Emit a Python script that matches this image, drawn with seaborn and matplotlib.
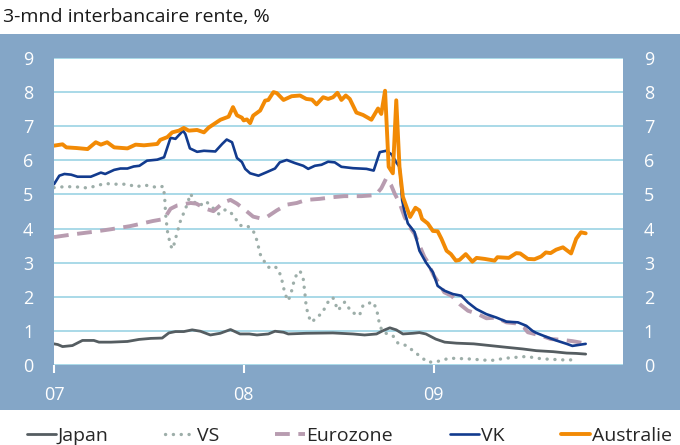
import pandas as pd
import seaborn as sns
import matplotlib.pyplot as plt

# decimal year -> value
jp_t = [2007.00, 2007.02, 2007.045, 2007.097, 2007.15, 2007.21, 2007.237, 2007.30, 2007.387,
        2007.448, 2007.51, 2007.57, 2007.605, 2007.64, 2007.684, 2007.728, 2007.771, 2007.824,
        2007.876, 2007.93, 2007.98, 2008.03, 2008.07, 2008.13, 2008.165, 2008.21, 2008.235,
        2008.33, 2008.47, 2008.576, 2008.637, 2008.70, 2008.735, 2008.77, 2008.804, 2008.839,
        2008.892, 2008.926, 2008.96, 2009.01, 2009.057, 2009.12, 2009.21, 2009.295, 2009.38,
        2009.469, 2009.54, 2009.63, 2009.70, 2009.75, 2009.80]
jp_v = [0.62, 0.60, 0.54, 0.57, 0.72, 0.72, 0.67, 0.67, 0.69,
        0.75, 0.78, 0.79, 0.94, 0.98, 0.98, 1.03, 0.99, 0.88,
        0.93, 1.04, 0.91, 0.91, 0.88, 0.91, 0.99, 0.96, 0.91,
        0.93, 0.94, 0.91, 0.88, 0.91, 1.01, 1.09, 1.03, 0.91,
        0.93, 0.95, 0.91, 0.76, 0.67, 0.64, 0.62, 0.57, 0.52,
        0.47, 0.42, 0.39, 0.35, 0.34, 0.32]

us_t = [2007.00, 2007.06, 2007.12, 2007.177, 2007.23, 2007.265, 2007.33, 2007.39, 2007.43,
        2007.47, 2007.50, 2007.544, 2007.576, 2007.583, 2007.588, 2007.597, 2007.614, 2007.626,
        2007.64, 2007.667, 2007.693, 2007.72, 2007.745, 2007.77, 2007.80, 2007.824, 2007.868,
        2007.894, 2007.92, 2007.946, 2007.98, 2008.017, 2008.05, 2008.07, 2008.087, 2008.10,
        2008.13, 2008.157, 2008.183, 2008.20, 2008.218, 2008.235, 2008.253, 2008.27, 2008.297,
        2008.314, 2008.323, 2008.33, 2008.345, 2008.36, 2008.385, 2008.41, 2008.445, 2008.47,
        2008.497, 2008.533, 2008.568, 2008.61, 2008.629, 2008.68, 2008.70, 2008.717, 2008.734,
        2008.786, 2008.813, 2008.857, 2008.892, 2008.926, 2008.97, 2009.014, 2009.04, 2009.08,
        2009.18, 2009.30, 2009.38, 2009.487, 2009.57, 2009.68, 2009.76]
us_v = [5.20, 5.23, 5.22, 5.19, 5.26, 5.32, 5.30, 5.30, 5.22,
        5.27, 5.26, 5.20, 5.24, 4.92, 4.43, 3.94, 3.50, 3.40,
        3.70, 4.24, 4.58, 5.02, 4.73, 4.68, 4.80, 4.68, 4.43,
        4.55, 4.53, 4.38, 4.09, 4.09, 3.94, 3.65, 3.25, 3.11,
        2.86, 2.91, 2.81, 2.52, 2.08, 1.88, 2.18, 2.57, 2.76,
        2.52, 2.08, 1.69, 1.39, 1.25, 1.42, 1.49, 1.85, 1.98,
        1.60, 1.85, 1.55, 1.45, 1.75, 1.85, 1.65, 1.16, 0.96,
        0.86, 0.64, 0.57, 0.42, 0.27, 0.08, 0.10, 0.13, 0.20,
        0.18, 0.13, 0.20, 0.25, 0.18, 0.15, 0.15]

ez_t = [2007.00, 2007.10, 2007.20, 2007.30, 2007.40, 2007.457, 2007.52, 2007.58, 2007.614,
        2007.65, 2007.72, 2007.75, 2007.80, 2007.84, 2007.894, 2007.93, 2007.964, 2007.999,
        2008.05, 2008.087, 2008.12, 2008.174, 2008.227, 2008.28, 2008.33, 2008.40, 2008.47,
        2008.53, 2008.62, 2008.695, 2008.725, 2008.751, 2008.777, 2008.795, 2008.822, 2008.848,
        2008.874, 2008.90, 2008.926, 2008.952, 2008.965, 2009.00, 2009.03, 2009.055, 2009.093,
        2009.137, 2009.18, 2009.233, 2009.277, 2009.33, 2009.382, 2009.434, 2009.475, 2009.495,
        2009.565, 2009.617, 2009.67, 2009.73, 2009.79]
ez_v = [3.75, 3.83, 3.90, 3.98, 4.07, 4.14, 4.22, 4.28, 4.58,
        4.68, 4.75, 4.73, 4.58, 4.51, 4.77, 4.84, 4.73, 4.58,
        4.35, 4.30, 4.33, 4.53, 4.70, 4.75, 4.84, 4.87, 4.92,
        4.95, 4.95, 4.98, 5.18, 5.47, 5.27, 5.03, 4.74, 4.34,
        4.05, 3.85, 3.51, 3.17, 3.06, 2.62, 2.37, 2.13, 2.03,
        1.78, 1.59, 1.49, 1.37, 1.39, 1.25, 1.22, 1.10, 0.96,
        0.86, 0.76, 0.74, 0.70, 0.64]

vk_t = [2007.00, 2007.028, 2007.055, 2007.09, 2007.124, 2007.194, 2007.247, 2007.27, 2007.317,
        2007.35, 2007.387, 2007.42, 2007.45, 2007.49, 2007.544, 2007.58, 2007.614, 2007.64,
        2007.68, 2007.692, 2007.716, 2007.754, 2007.79, 2007.85, 2007.886, 2007.91, 2007.938,
        2007.964, 2007.99, 2008.008, 2008.034, 2008.078, 2008.12, 2008.165, 2008.19, 2008.227,
        2008.27, 2008.314, 2008.34, 2008.375, 2008.41, 2008.445, 2008.48, 2008.515, 2008.576,
        2008.647, 2008.685, 2008.717, 2008.751, 2008.78, 2008.804, 2008.822, 2008.835, 2008.848,
        2008.865, 2008.90, 2008.926, 2008.96, 2008.997, 2009.02, 2009.055, 2009.10, 2009.145,
        2009.18, 2009.224, 2009.277, 2009.33, 2009.382, 2009.443, 2009.487, 2009.52, 2009.54,
        2009.59, 2009.644, 2009.70, 2009.73, 2009.765, 2009.80]
vk_v = [5.30, 5.55, 5.60, 5.58, 5.52, 5.52, 5.64, 5.60, 5.72,
        5.76, 5.76, 5.82, 5.84, 5.99, 6.02, 6.09, 6.66, 6.63,
        6.87, 6.77, 6.35, 6.25, 6.28, 6.26, 6.48, 6.61, 6.53,
        6.07, 5.95, 5.75, 5.62, 5.55, 5.65, 5.76, 5.94, 6.01,
        5.92, 5.84, 5.75, 5.84, 5.87, 5.96, 5.94, 5.81, 5.77,
        5.75, 5.70, 6.24, 6.28, 6.17, 5.94, 5.80, 4.83, 4.49,
        4.15, 3.90, 3.35, 3.01, 2.72, 2.32, 2.18, 2.08, 2.03,
        1.83, 1.64, 1.49, 1.39, 1.27, 1.25, 1.15, 1.00, 0.94,
        0.83, 0.72, 0.62, 0.56, 0.59, 0.62]

au_t = [2007.00, 2007.045, 2007.065, 2007.12, 2007.177, 2007.22, 2007.247, 2007.28, 2007.317,
        2007.387, 2007.43, 2007.474, 2007.544, 2007.56, 2007.597, 2007.623, 2007.658, 2007.684,
        2007.71, 2007.754, 2007.79, 2007.815, 2007.85, 2007.877, 2007.92, 2007.943, 2007.964,
        2007.99, 2008.00, 2008.017, 2008.034, 2008.05, 2008.087, 2008.113, 2008.13, 2008.157,
        2008.175, 2008.21, 2008.253, 2008.297, 2008.33, 2008.36, 2008.384, 2008.419, 2008.445,
        2008.471, 2008.494, 2008.515, 2008.538, 2008.559, 2008.594, 2008.629, 2008.673, 2008.708,
        2008.725, 2008.745, 2008.764, 2008.786, 2008.804, 2008.821, 2008.839, 2008.877, 2008.905,
        2008.926, 2008.94, 2008.97, 2008.997, 2009.02, 2009.04, 2009.067, 2009.09, 2009.116,
        2009.135, 2009.168, 2009.203, 2009.225, 2009.268, 2009.32, 2009.335, 2009.395, 2009.434,
        2009.455, 2009.495, 2009.53, 2009.565, 2009.59, 2009.615, 2009.644, 2009.68, 2009.723,
        2009.75, 2009.775, 2009.80]
au_v = [6.43, 6.47, 6.38, 6.36, 6.33, 6.53, 6.46, 6.53, 6.38,
        6.35, 6.46, 6.44, 6.48, 6.60, 6.68, 6.82, 6.87, 6.95,
        6.87, 6.89, 6.82, 6.96, 7.09, 7.19, 7.28, 7.56, 7.32,
        7.25, 7.17, 7.20, 7.09, 7.31, 7.46, 7.75, 7.77, 8.00,
        7.97, 7.77, 7.88, 7.90, 7.80, 7.78, 7.64, 7.85, 7.80,
        7.85, 7.98, 7.77, 7.90, 7.80, 7.40, 7.33, 7.19, 7.52,
        7.36, 8.04, 5.81, 5.62, 7.76, 5.80, 4.93, 4.34, 4.61,
        4.53, 4.28, 4.15, 3.93, 3.92, 3.70, 3.35, 3.25, 3.06,
        3.08, 3.25, 3.03, 3.14, 3.11, 3.06, 3.16, 3.14, 3.28,
        3.27, 3.11, 3.10, 3.18, 3.30, 3.28, 3.38, 3.45, 3.27,
        3.70, 3.89, 3.86]

year_ticks = [2007, 2008, 2009]
year_labels = ["07", "08", "09"]
y_ticks = list(range(10))


def to_dates(years):
    out = []
    for y in years:
        base = int(y)
        out.append(pd.Timestamp(base, 1, 1) + pd.Timedelta(days=(y - base) * 365.25))
    return out


sns.set_theme(style="white")
plt.rcParams['font.family'] = ['Open Sans', 'DejaVu Sans']

W, H = 680, 445
fig = plt.figure(figsize=(W / 100, H / 100), dpi=100)
fig.patch.set_facecolor('white')

# blue panel behind the chart
bg = fig.add_axes([0, (H - 410) / H, 1, (410 - 34) / H], zorder=-5)
bg.set_facecolor('#84A6C7')
bg.set_xticks([])
bg.set_yticks([])
for s in bg.spines.values():
    s.set_visible(False)

ax = fig.add_axes([54 / W, (H - 365) / H, (623 - 54) / W, (365 - 58) / H])
ax.set_facecolor('white')

series = [
    ("Japan", jp_t, jp_v, dict(color='#555D61', lw=2.0)),
    ("VS", us_t, us_v, dict(color='#9DAEA9', lw=2.4, linestyle=(0, (0.05, 2.3)),
                            dash_capstyle='round')),
    ("Eurozone", ez_t, ez_v, dict(color='#B89CB0', lw=2.8, linestyle=(0, (3.8, 2.2)))),
    ("VK", vk_t, vk_v, dict(color='#123B8E', lw=1.9)),
    ("Australie", au_t, au_v, dict(color='#F28A05', lw=2.8)),
]

for name, t, v, kw in series:
    df = pd.DataFrame({'date': to_dates(t), 'rente': v})
    sns.lineplot(data=df, x='date', y='rente', ax=ax, label=name, **kw)

ax.set_ylim(0, 9)
ax.set_xlim(pd.Timestamp(2007, 1, 1), pd.Timestamp(2009, 12, 31))
ax.set_yticks(y_ticks)
ax.yaxis.grid(True, color='#A3D7E6', lw=1.3)
ax.xaxis.grid(False)
ax.set_axisbelow(True)
for s in ax.spines.values():
    s.set_visible(False)

ax.set_xticks(to_dates(year_ticks))
ax.set_xticklabels(year_labels)
ax.set_xlabel('')
ax.set_ylabel('')
ax.tick_params(axis='x', colors='white', labelsize=13, length=6, width=1.5,
               direction='out', pad=9, bottom=True)
ax.tick_params(axis='y', colors='white', labelsize=13, length=0, pad=15)

ax2 = ax.twinx()
ax2.set_ylim(0, 9)
ax2.set_yticks(y_ticks)
ax2.tick_params(axis='y', colors='white', labelsize=13, length=0, pad=15)
for s in ax2.spines.values():
    s.set_visible(False)
ax2.grid(False)

handles, labels = ax.get_legend_handles_labels()
ax.get_legend().remove()
fig.legend(handles, labels, loc='center', bbox_to_anchor=(0.028, (H - 436) / H, 0.972, 0),
           mode='expand', ncol=5, frameon=False, fontsize=14, handlelength=1.5,
           handletextpad=0.1, borderaxespad=0)

fig.text(3 / W, (H - 17) / H, "3-mnd interbancaire rente, %", fontsize=14,
         color='#1a1a1a', va='center', ha='left')

fig.savefig('out.png', dpi=100)
